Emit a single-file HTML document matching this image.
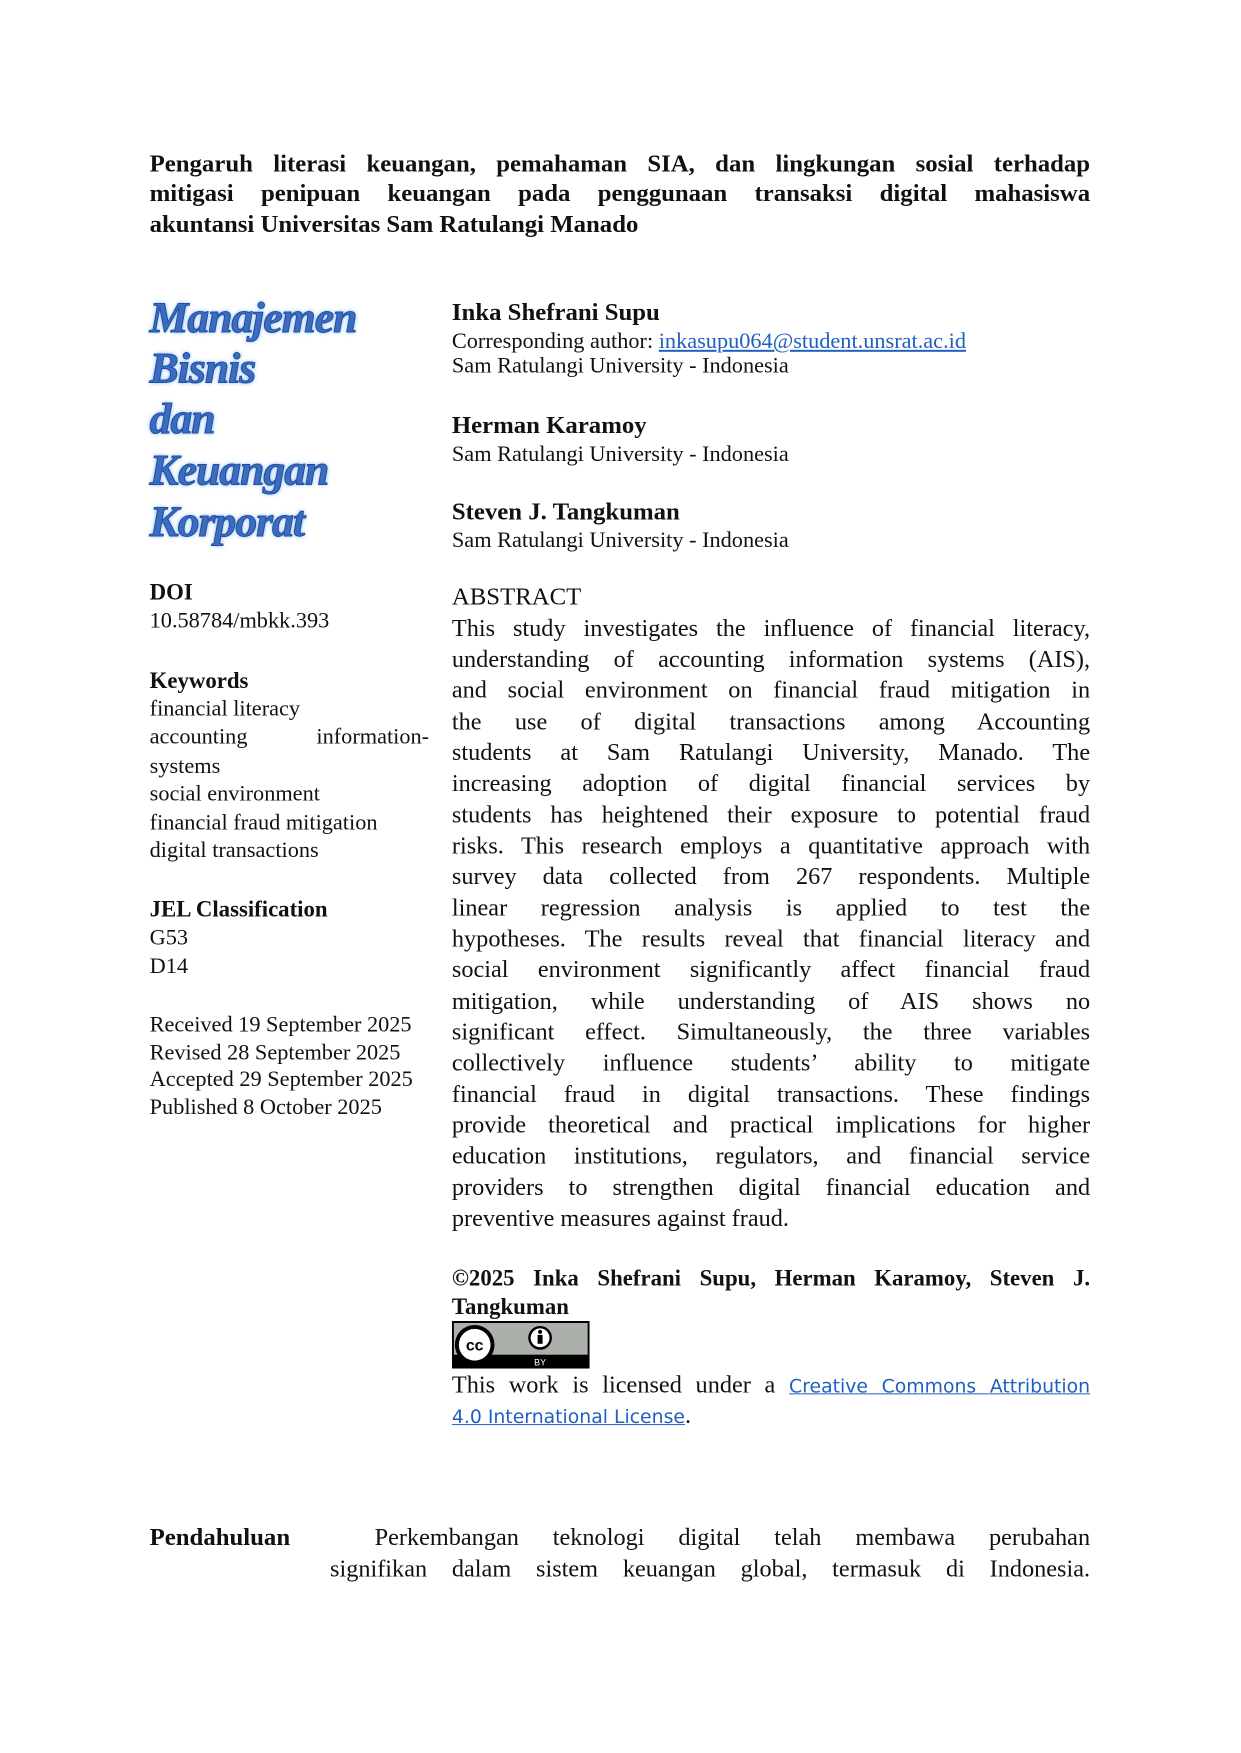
<!DOCTYPE html>
<html><head><meta charset="utf-8">
<style>
body{margin:0;width:1241px;height:1753px;background:#fff;position:relative;overflow:hidden;font-family:"Liberation Serif",serif;color:#111}
#w{position:absolute;left:0;top:0;width:1241px;height:1753px;transform:scale(0.991);transform-origin:0 0}
.l{position:absolute;white-space:nowrap;line-height:30px;height:30px}
.j{position:absolute;line-height:30px;height:30px;text-align:justify;text-align-last:justify;white-space:nowrap;overflow:visible}
.b{font-weight:bold}
.t{font-size:25px;font-weight:bold;left:151px;width:949px}
.logo{position:absolute;left:151px;font-family:"Liberation Serif",serif;font-style:italic;font-weight:bold;font-size:44px;color:#3b6cc0;line-height:50px;text-shadow:0 0 3px #8fb8ee,0 0 6px #b5d2f5;-webkit-text-stroke:1px #1f4f9e;letter-spacing:-1px}
.lc{font-size:22.5px;left:151px}
.rc{left:456px}
.ab{font-size:24.5px;left:456px;width:644px}
a{color:#1f5fbf}
</style></head><body><div id="w">
<div class="j t" style="top:151px">Pengaruh literasi keuangan, pemahaman SIA, dan lingkungan sosial terhadap</div>
<div class="j t" style="top:181px">mitigasi penipuan keuangan pada penggunaan transaksi digital mahasiswa</div>
<div class="l t" style="top:212px">akuntansi Universitas Sam Ratulangi Manado</div>

<div class="logo" style="top:296px">Manajemen</div>
<div class="logo" style="top:347px">Bisnis</div>
<div class="logo" style="top:398px">dan</div>
<div class="logo" style="top:450px">Keuangan</div>
<div class="logo" style="top:502px">Korporat</div>

<div class="l rc b" style="top:301px;font-size:25px">Inka Shefrani Supu</div>
<div class="l rc" style="top:329px;font-size:22.5px">Corresponding author: <a href="#" style="color:#1f5fbf">inkasupu064@student.unsrat.ac.id</a></div>
<div class="l rc" style="top:354px;font-size:22.5px">Sam Ratulangi University - Indonesia</div>
<div class="l rc b" style="top:415px;font-size:25px">Herman Karamoy</div>
<div class="l rc" style="top:443px;font-size:22.5px">Sam Ratulangi University - Indonesia</div>
<div class="l rc b" style="top:502px;font-size:25px">Steven J. Tangkuman</div>
<div class="l rc" style="top:530px;font-size:22.5px">Sam Ratulangi University - Indonesia</div>

<div class="l lc b" style="top:583px;font-size:23px">DOI</div>
<div class="l lc" style="top:611px">10.58784/mbkk.393</div>
<div class="l lc b" style="top:672px;font-size:23px">Keywords</div>
<div class="l lc" style="top:700px">financial literacy</div>
<div class="j lc" style="top:728px;width:282px">accounting information-</div>
<div class="l lc" style="top:758px">systems</div>
<div class="l lc" style="top:786px">social environment</div>
<div class="l lc" style="top:815px">financial fraud mitigation</div>
<div class="l lc" style="top:843px">digital transactions</div>
<div class="l lc b" style="top:903px;font-size:23px">JEL Classification</div>
<div class="l lc" style="top:931px">G53</div>
<div class="l lc" style="top:960px">D14</div>
<div class="l lc" style="top:1019px">Received 19 September 2025</div>
<div class="l lc" style="top:1047px">Revised 28 September 2025</div>
<div class="l lc" style="top:1074px">Accepted 29 September 2025</div>
<div class="l lc" style="top:1102px">Published 8 October 2025</div>

<div class="l rc" style="top:588px;font-size:25px">ABSTRACT</div>
<div class="j ab" style="top:620px">This study investigates the influence of financial literacy,</div>
<div class="j ab" style="top:651px">understanding of accounting information systems (AIS),</div>
<div class="j ab" style="top:682px">and social environment on financial fraud mitigation in</div>
<div class="j ab" style="top:714px">the use of digital transactions among Accounting</div>
<div class="j ab" style="top:745px">students at Sam Ratulangi University, Manado. The</div>
<div class="j ab" style="top:776px">increasing adoption of digital financial services by</div>
<div class="j ab" style="top:808px">students has heightened their exposure to potential fraud</div>
<div class="j ab" style="top:839px">risks. This research employs a quantitative approach with</div>
<div class="j ab" style="top:870px">survey data collected from 267 respondents. Multiple</div>
<div class="j ab" style="top:902px">linear regression analysis is applied to test the</div>
<div class="j ab" style="top:933px">hypotheses. The results reveal that financial literacy and</div>
<div class="j ab" style="top:964px">social environment significantly affect financial fraud</div>
<div class="j ab" style="top:996px">mitigation, while understanding of AIS shows no</div>
<div class="j ab" style="top:1027px">significant effect. Simultaneously, the three variables</div>
<div class="j ab" style="top:1058px">collectively influence students’ ability to mitigate</div>
<div class="j ab" style="top:1090px">financial fraud in digital transactions. These findings</div>
<div class="j ab" style="top:1121px">provide theoretical and practical implications for higher</div>
<div class="j ab" style="top:1152px">education institutions, regulators, and financial service</div>
<div class="j ab" style="top:1184px">providers to strengthen digital financial education and</div>
<div class="l ab" style="top:1215px">preventive measures against fraud.</div>

<div class="j ab b" style="top:1275px;font-size:23px">©2025 Inka Shefrani Supu, Herman Karamoy, Steven J.</div>
<div class="l ab b" style="top:1304px;font-size:23px">Tangkuman</div>
<svg style="position:absolute;left:456px;top:1333px" width="139" height="48" viewBox="0 0 139 48">
<rect x="0" y="0" width="139" height="48" fill="#000"/>
<rect x="2" y="2" width="135" height="32" fill="#abb0aa"/>
<circle cx="23" cy="24" r="20" fill="#000"/><circle cx="23" cy="24" r="16" fill="#fff"/>
<text x="23" y="30" font-family="Liberation Sans" font-weight="bold" font-size="16" text-anchor="middle" fill="#000">cc</text>
<circle cx="89" cy="17" r="12" fill="#000"/><circle cx="89" cy="17" r="9.5" fill="#fff"/>
<circle cx="89" cy="11" r="2" fill="#000"/><rect x="86.5" y="14" width="5" height="9" fill="#000"/>
<text x="89" y="45" font-family="Liberation Sans" font-size="9" text-anchor="middle" fill="#fff">BY</text>
</svg>
<div class="j ab" style="top:1383px">This work is licensed under a <a href="#" style="font-family:'DejaVu Sans',sans-serif;font-size:19px">Creative Commons Attribution</a></div>
<div class="l ab" style="top:1414px"><a href="#" style="font-family:'DejaVu Sans',sans-serif;font-size:19px">4.0 International License</a>.</div>

<div class="l b" style="left:151px;top:1537px;font-size:25px">Pendahuluan</div>
<div class="j" style="left:378px;top:1537px;width:722px;font-size:24.5px">Perkembangan teknologi digital telah membawa perubahan</div>
<div class="j" style="left:333px;top:1569px;width:767px;font-size:24.5px">signifikan dalam sistem keuangan global, termasuk di Indonesia.</div>
</div></body></html>
